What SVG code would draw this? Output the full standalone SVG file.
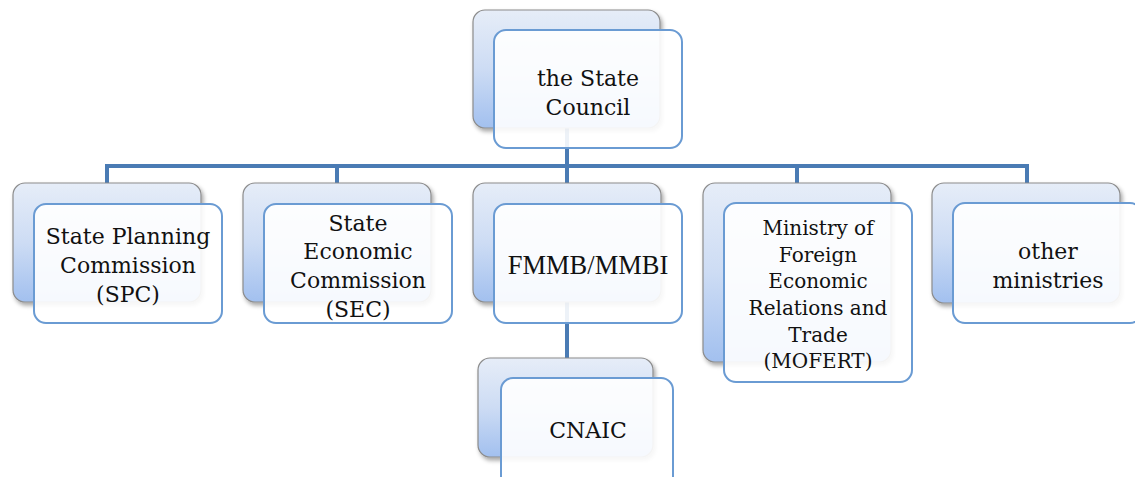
<svg xmlns="http://www.w3.org/2000/svg" width="1135" height="477" viewBox="0 0 1135 477">
<style>
.back{fill:url(#g);stroke:#8c8c8c;stroke-width:1.2;filter:url(#sh)}
.front{fill:#ffffff;fill-opacity:0.9;stroke:#6a9bd3;stroke-width:2}
.t{font-family:"DejaVu Serif","Liberation Serif",serif;font-size:22px;fill:#111;text-anchor:middle}
.ts{font-size:20px}
.tt{font-family:"Liberation Serif",serif;font-size:26.5px}
.c{fill:none;stroke:#4a7bb4;stroke-width:4}
</style>
<defs>
<linearGradient id="g" x1="0" y1="0" x2="0" y2="1">
<stop offset="0" stop-color="#e6edf8"/>
<stop offset="0.5" stop-color="#cddcf4"/>
<stop offset="1" stop-color="#a2c0ef"/>
</linearGradient>
<filter id="sh" x="-10%" y="-10%" width="125%" height="130%">
<feDropShadow dx="2" dy="3" stdDeviation="2" flood-color="#000" flood-opacity="0.35"/>
</filter>
</defs>
<rect width="1135" height="477" fill="#fff"/>
<g id="connectors">
<path class="c" d="M567 128 V166 M107 185 V166 H1027 V185 M337 166 V185 M567 166 V185 M797 166 V185 M567 302 V360"/>
</g>
<g id="council">
<rect class="back" x="473" y="10" width="187" height="118" rx="12"/>
<rect class="front" x="494" y="30" width="188" height="118" rx="12"/>
<text class="t" x="588" y="86">the State</text>
<text class="t" x="588" y="115">Council</text>
</g>
<g id="spc">
<rect class="back" x="13" y="183" width="188" height="119" rx="12"/>
<rect class="front" x="34" y="204" width="188" height="119" rx="12"/>
<text class="t" x="128" y="244">State Planning</text>
<text class="t" x="128" y="273">Commission</text>
<text class="t" x="128" y="302">(SPC)</text>
</g>
<g id="sec">
<rect class="back" x="243" y="183" width="188" height="119" rx="12"/>
<rect class="front" x="264" y="204" width="188" height="119" rx="12"/>
<text class="t" x="358" y="231">State</text>
<text class="t" x="358" y="259">Economic</text>
<text class="t" x="358" y="288">Commission</text>
<text class="t" x="358" y="317">(SEC)</text>
</g>
<g id="fmmb">
<rect class="back" x="473" y="183" width="188" height="119" rx="12"/>
<rect class="front" x="494" y="204" width="188" height="119" rx="12"/>
<text class="t tt" x="588" y="274">FMMB/MMBI</text>
</g>
<g id="mofert">
<rect class="back" x="703" y="183" width="188" height="179" rx="12"/>
<rect class="front" x="724" y="203" width="188" height="179" rx="12"/>
<text class="t ts" x="818" y="235">Ministry of</text>
<text class="t ts" x="818" y="262">Foreign</text>
<text class="t ts" x="818" y="288">Economic</text>
<text class="t ts" x="818" y="315">Relations and</text>
<text class="t ts" x="818" y="342">Trade</text>
<text class="t ts" x="818" y="368">(MOFERT)</text>
</g>
<g id="other">
<rect class="back" x="932" y="183" width="188" height="120" rx="12"/>
<rect class="front" x="953" y="203" width="189" height="120" rx="12"/>
<text class="t" x="1048" y="259">other</text>
<text class="t" x="1048" y="288">ministries</text>
</g>
<g id="cnaic">
<rect class="back" x="478" y="358" width="175" height="99" rx="12"/>
<rect class="front" x="501" y="378" width="172" height="110" rx="12"/>
<text class="t" x="588" y="438">CNAIC</text>
</g>
</svg>
